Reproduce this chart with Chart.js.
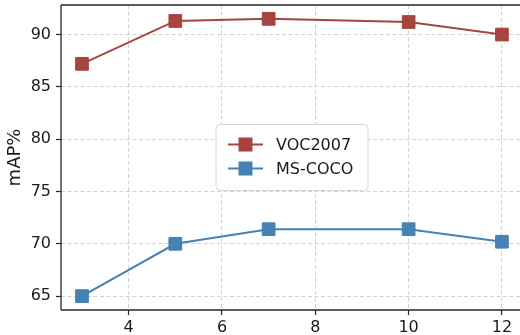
<!DOCTYPE html>
<html>
<head>
<meta charset="utf-8">
<script src="https://cdn.jsdelivr.net/npm/chart.js@4"></script>
<style>
  html, body { margin: 0; padding: 0; background: #fff; overflow: hidden; }
</style>
</head>
<body>
<canvas id="myChart" width="520" height="335"></canvas>
<script>
// values
var xValues = [3, 5, 7, 10, 12];
var vocValues = [87.2, 91.3, 91.5, 91.2, 90.0];
var cocoValues = [65.0, 70.0, 71.4, 71.4, 70.2];
var xTicks = [4, 6, 8, 10, 12];
var yTicks = [65, 70, 75, 80, 85, 90];

var red = '#a6453f';
var blue = '#4682b4';
var font = 'DejaVu Sans';

function pts(ys) {
  var out = [];
  for (var i = 0; i < xValues.length; i++) out.push({x: xValues[i], y: ys[i]});
  return out;
}

function noPad(s) {
  s.paddingTop = 0; s.paddingBottom = 0; s.paddingLeft = 0; s.paddingRight = 0;
}

function seg(c, x1, y1, x2, y2) {
  c.beginPath();
  c.moveTo(x1, y1);
  c.lineTo(x2, y2);
  c.stroke();
}

// spines (right one is cut off in the picture) + legend centred in the plot
var framePlugin = {
  id: 'frame',
  afterDatasetsDraw: function (chart) {
    var c = chart.ctx, a = chart.chartArea;
    c.save();
    c.strokeStyle = '#262626';
    c.lineWidth = 1.3;
    c.lineCap = 'butt';
    seg(c, a.left, a.top, a.right, a.top);
    seg(c, a.left, a.top, a.left, a.bottom);
    seg(c, a.left, a.bottom, a.right, a.bottom);

    var cx = 292, cy = (a.top + a.bottom) / 2;
    var w = 152, h = 66, x0 = cx - w / 2, y0 = cy - h / 2;
    c.beginPath();
    c.roundRect(x0, y0, w, h, 4);
    c.fillStyle = 'rgba(255,255,255,0.85)';
    c.fill();
    c.strokeStyle = '#d6d6d6';
    c.lineWidth = 1;
    c.stroke();

    var sets = chart.data.datasets;
    for (var i = 0; i < sets.length; i++) {
      var ry = y0 + 20 + i * 24;
      c.strokeStyle = sets[i].borderColor;
      c.lineWidth = 2;
      seg(c, x0 + 12, ry, x0 + 47, ry);
      c.fillStyle = sets[i].borderColor;
      c.fillRect(x0 + 29.5 - 7, ry - 7, 14, 14);
      c.fillStyle = '#1a1a1a';
      c.font = '16px ' + font;
      c.textBaseline = 'middle';
      c.textAlign = 'left';
      c.fillText(sets[i].label, x0 + 60, ry + 1);
    }
    c.restore();
  }
};

var ctx = document.getElementById('myChart').getContext('2d');
var myChart = new Chart(ctx, {
  type: 'line',
  data: {
    datasets: [
      {
        label: 'VOC2007',
        data: pts(vocValues),
        borderColor: red,
        backgroundColor: red,
        borderWidth: 2,
        pointStyle: 'rect',
        pointRadius: 9,
        pointBorderWidth: 1,
        pointHoverRadius: 9
      },
      {
        label: 'MS-COCO',
        data: pts(cocoValues),
        borderColor: blue,
        backgroundColor: blue,
        borderWidth: 2,
        pointStyle: 'rect',
        pointRadius: 9,
        pointBorderWidth: 1,
        pointHoverRadius: 9
      }
    ]
  },
  options: {
    responsive: false,
    animation: false,
    events: [],
    layout: { autoPadding: false, padding: { top: 5, right: 0, left: 0, bottom: 0 } },
    plugins: { legend: { display: false }, tooltip: { enabled: false } },
    scales: {
      x: {
        type: 'linear',
        min: 2.55,
        max: 12.387,
        afterBuildTicks: function (s) { s.ticks = xTicks.map(function (v) { return {value: v}; }); },
        afterFit: function (s) { s.height = 25; noPad(s); },
        grid: { color: '#d3d3d3', lineWidth: 1, tickLength: 5, tickColor: '#262626', tickWidth: 1.2 },
        border: { display: false, dash: [4, 2.5] },
        ticks: { color: '#1a1a1a', font: { family: font, size: 16 }, padding: 3, maxRotation: 0 }
      },
      y: {
        min: 63.675,
        max: 92.825,
        afterBuildTicks: function (s) { s.ticks = yTicks.map(function (v) { return {value: v}; }); },
        afterFit: function (s) { s.width = 61; noPad(s); },
        grid: { color: '#d3d3d3', lineWidth: 1, tickLength: 5, tickColor: '#262626', tickWidth: 1.2 },
        border: { display: false, dash: [4, 2.5] },
        ticks: { color: '#1a1a1a', font: { family: font, size: 16 }, padding: 5 },
        title: { display: true, text: 'mAP%', color: '#1a1a1a', font: { family: font, size: 18 }, padding: { top: 5, bottom: 0 } }
      }
    }
  },
  plugins: [framePlugin]
});
</script>
</body>
</html>
